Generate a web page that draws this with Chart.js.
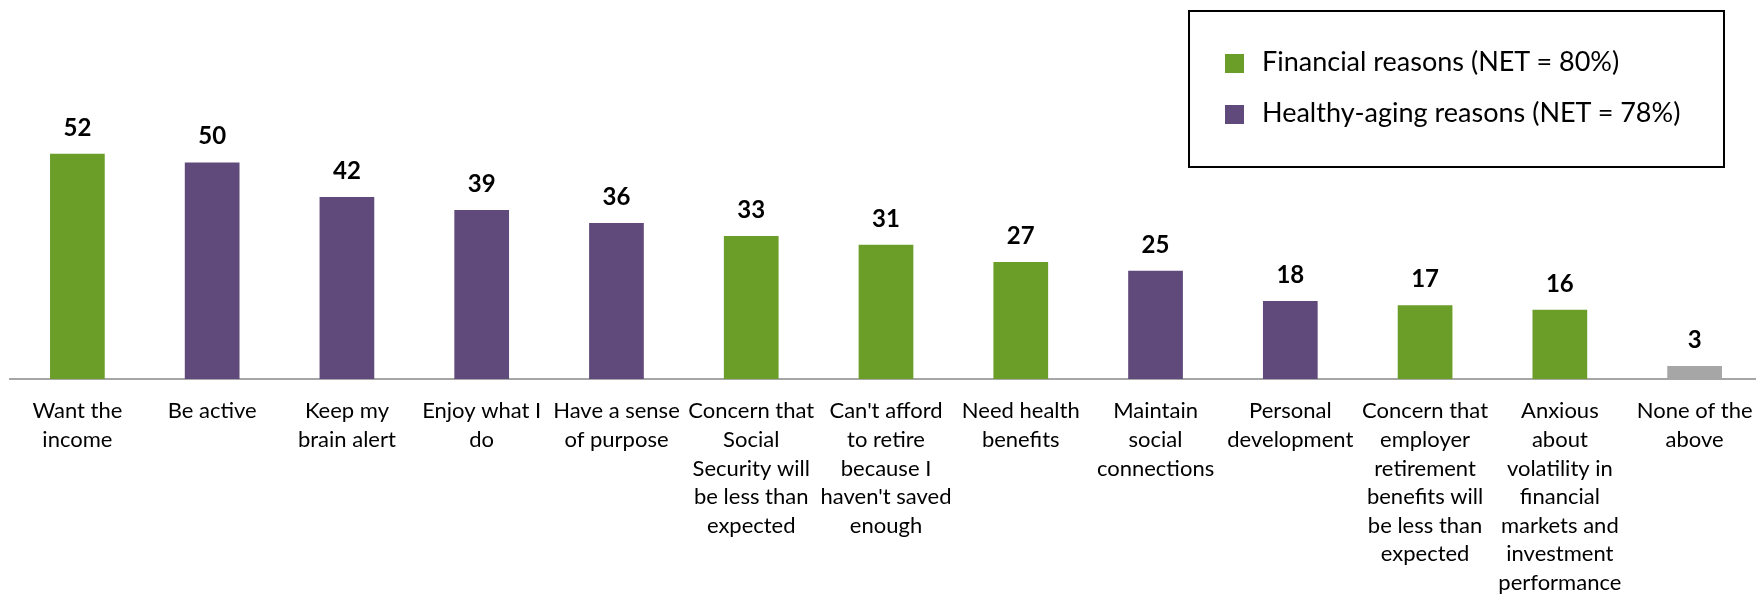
<!DOCTYPE html>
<html>
<head>
<meta charset="utf-8">
<script src="https://cdn.jsdelivr.net/npm/chart.js@4.4.0/dist/chart.umd.min.js"></script>
<style>
  html, body { margin: 0; padding: 0; background: #fff; overflow: hidden; }
  #wrap { position: relative; width: 1756px; height: 597px; overflow: hidden; }
  #reasonsChart { position: absolute; left: 0; top: 0; }
  #legendBox {
    position: absolute; left: 1188px; top: 10px; width: 533px; height: 154px;
    border: 2px solid #000; font-family: Lato, sans-serif; font-size: 27px; color: #000;
  }
  .item { position: absolute; left: 35px; height: 30px; line-height: 30px; white-space: nowrap; }
  .item span.sw { display: inline-block; width: 19px; height: 19px; margin-right: 18px; vertical-align: -2px; }
</style>
</head>
<body>
<div id="wrap">
  <canvas id="reasonsChart" width="1766" height="597"></canvas>
  <div id="legendBox"></div>
</div>
<script>
// categories (wrapped the way the reference wraps them)
var categories = [
    ['Want the', 'income'],
    ['Be active'],
    ['Keep my', 'brain alert'],
    ['Enjoy what I', 'do'],
    ['Have a sense', 'of purpose'],
    ['Concern that', 'Social', 'Security will', 'be less than', 'expected'],
    ["Can't afford", 'to retire', 'because I', "haven't saved", 'enough'],
    ['Need health', 'benefits'],
    ['Maintain', 'social', 'connections'],
    ['Personal', 'development'],
    ['Concern that', 'employer', 'retirement', 'benefits will', 'be less than', 'expected'],
    ['Anxious', 'about', 'volatility in', 'financial', 'markets and', 'investment', 'performance'],
    ['None of the', 'above']
];

// series values (null where the reason belongs to another group)
var financialValues = [52, null, null, null, null, 33, 31, 27, null, null, 17, 16, null];
var healthyAgingValues = [null, 50, 42, 39, 36, null, null, null, 25, 18, null, null, null];
var noneValues = [null, null, null, null, null, null, null, null, null, null, null, null, 3];

var seriesNames = ['Financial reasons (NET = 80%)', 'Healthy-aging reasons (NET = 78%)'];
var seriesColors = ['#6b9e28', '#604a7b', '#a6a6a6'];

// bold value labels above each bar
var valueLabels = {
    id: 'valueLabels',
    afterDatasetsDraw: function (chart) {
        var ctx = chart.ctx;
        ctx.save();
        ctx.font = 'bold 24px Lato, sans-serif';
        ctx.fillStyle = '#000';
        ctx.textAlign = 'center';
        ctx.textBaseline = 'alphabetic';
        chart.data.datasets.forEach(function (ds, i) {
            chart.getDatasetMeta(i).data.forEach(function (bar, j) {
                if (ds.data[j] == null) return;
                ctx.fillText(String(ds.data[j]), bar.x, bar.y - 18);
            });
        });
        ctx.restore();
    }
};

var ctx = document.getElementById('reasonsChart').getContext('2d');

new Chart(ctx, {
    type: 'bar',
    data: {
        labels: categories,
        datasets: [
            { label: seriesNames[0], data: financialValues, backgroundColor: seriesColors[0] },
            { label: seriesNames[1], data: healthyAgingValues, backgroundColor: seriesColors[1] },
            { label: 'None', data: noneValues, backgroundColor: seriesColors[2] }
        ]
    },
    options: {
        responsive: false,
        animation: false,
        devicePixelRatio: 1,
        layout: { padding: { left: 10, right: 4, top: 0, bottom: 0 } },
        datasets: {
            bar: { grouped: false, barPercentage: 0.406, categoryPercentage: 1 }
        },
        plugins: {
            legend: { display: false },
            tooltip: { enabled: false }
        },
        scales: {
            x: {
                grid: { display: false },
                border: { display: true, color: '#a6a6a6', width: 2 },
                ticks: {
                    color: '#000',
                    font: { family: 'Lato', size: 22, lineHeight: 1.3 },
                    padding: 10,
                    maxRotation: 0,
                    autoSkip: false
                },
                afterFit: function (scale) { scale.height = 218; }
            },
            y: {
                display: false,
                min: 0,
                max: 87.5
            }
        }
    },
    plugins: [valueLabels]
});

// legend box, built from the series names and colours
var box = document.getElementById('legendBox');
seriesNames.forEach(function (name, i) {
    var row = document.createElement('div');
    row.className = 'item';
    row.style.top = (i === 0 ? 34 : 85) + 'px';
    var sw = document.createElement('span');
    sw.className = 'sw';
    sw.style.background = seriesColors[i];
    row.appendChild(sw);
    row.appendChild(document.createTextNode(name));
    box.appendChild(row);
});
</script>
</body>
</html>
